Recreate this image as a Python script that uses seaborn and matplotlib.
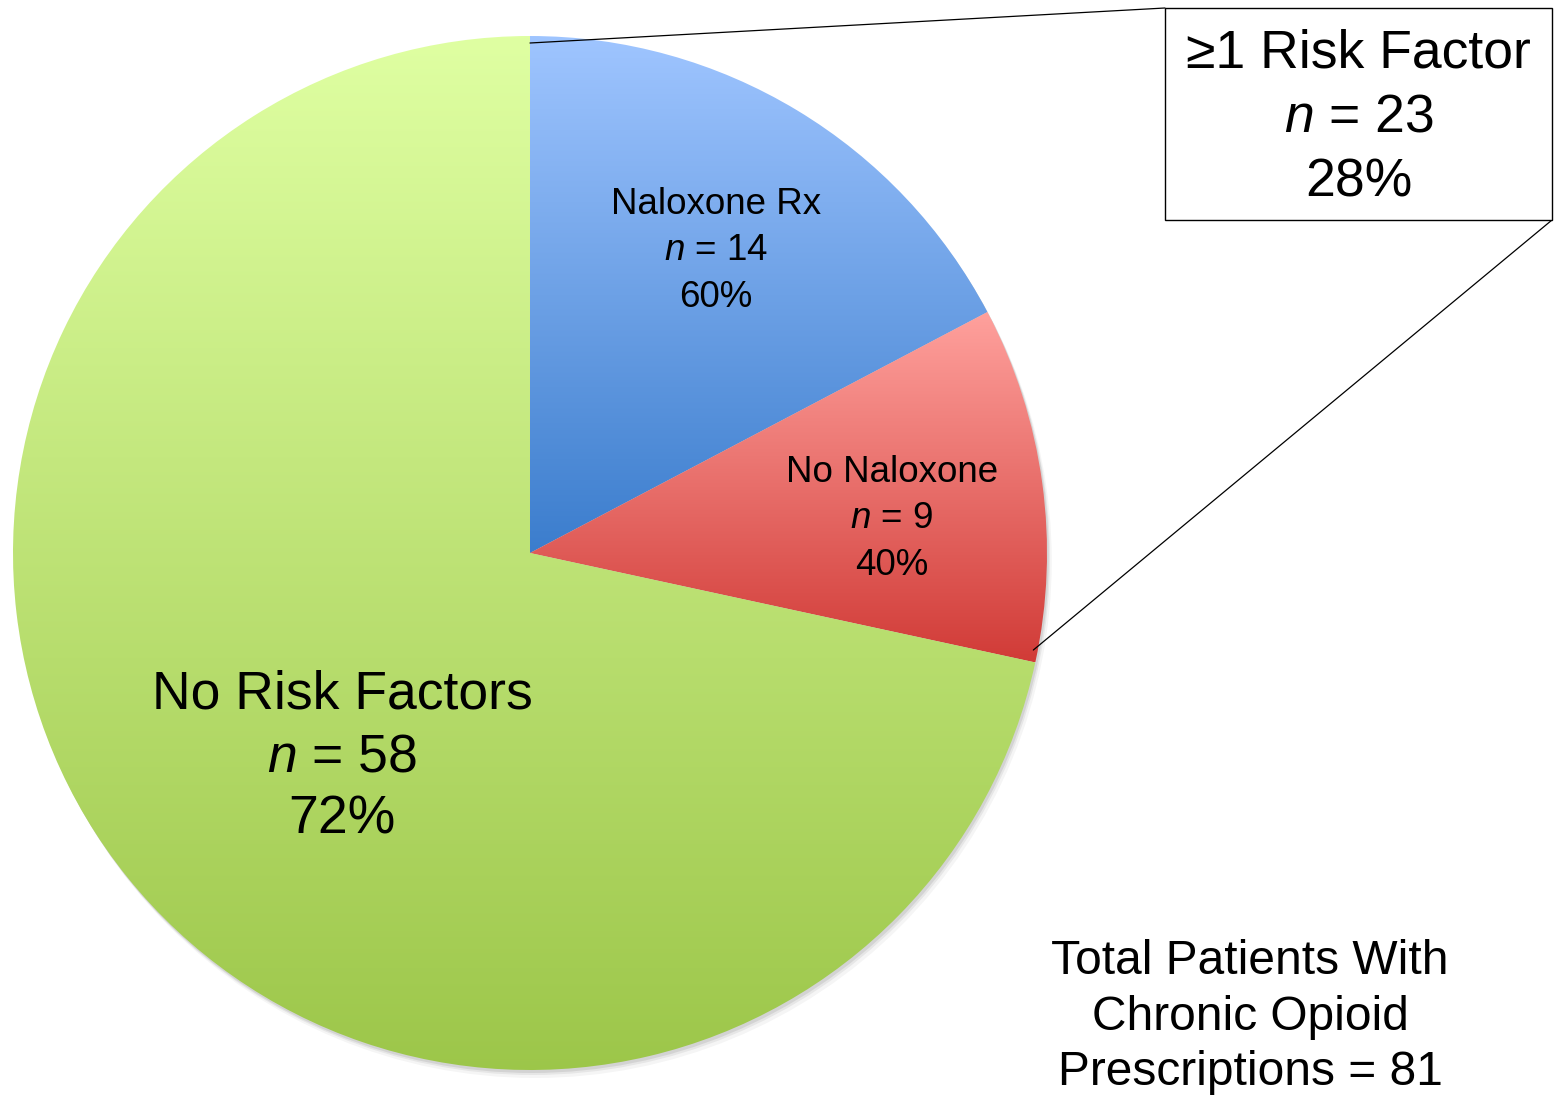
import numpy as np
import matplotlib
matplotlib.use("Agg")
import matplotlib.pyplot as plt
import matplotlib.colors as mcolors
from matplotlib.patches import Rectangle, Circle
import seaborn as sns

# data
labels = ["Naloxone Rx", "No Naloxone", "No Risk Factors"]
counts = [14, 9, 58]
pcts = ["60%", "40%", "72%"]
group_label = "≥1 Risk Factor"
group_n = 23
group_pct = "28%"
total_n = 81

# gradient colours (top, bottom) per slice
top_colors = ["#9fc5ff", "#ffa19d", "#dfffa2"]
bottom_colors = ["#3b7dcd", "#d13b37", "#9cc649"]

sns.set_theme(style="white")
plt.rcParams["font.family"] = ["Liberation Sans", "DejaVu Sans"]
plt.rcParams["text.color"] = "black"
plt.rcParams["mathtext.fontset"] = "custom"
plt.rcParams["mathtext.rm"] = "Liberation Sans"
plt.rcParams["mathtext.it"] = "Liberation Sans:italic"

W, H = 1564, 1095
fig = plt.figure(figsize=(W / 100, H / 100), dpi=100)
ax = fig.add_axes([0, 0, 1, 1])

cx, cy, r = 530, H - 553, 517

# soft shadow
for k, a in [(8, 0.04), (5, 0.06), (3, 0.08)]:
    ax.add_patch(Circle((cx + k * 0.6, cy - k), r, color="black", alpha=a, lw=0, zorder=0))

wedges, _ = ax.pie(counts, startangle=90, counterclock=False, center=(cx, cy),
                   radius=r, wedgeprops=dict(linewidth=0, facecolor="none"))

# vertical gradient per slice
for w, ctop, cbot in zip(wedges, top_colors, bottom_colors):
    path = w.get_path()
    verts = w.get_transform().transform(path.vertices)
    verts = ax.transData.inverted().transform(verts)
    x0, x1 = verts[:, 0].min(), verts[:, 0].max()
    y0, y1 = verts[:, 1].min(), verts[:, 1].max()
    t = np.linspace(0, 1, 256)[:, None]
    c0 = np.array(mcolors.to_rgb(cbot))
    c1 = np.array(mcolors.to_rgb(ctop))
    img = (c0 + (c1 - c0) * t)[:, None, :]
    im = ax.imshow(img, extent=(x0, x1, y0, y1), origin="lower", aspect="auto",
                   interpolation="bilinear", zorder=1)
    im.set_clip_path(w)

ax.set_xlim(0, W)
ax.set_ylim(0, H)
ax.set_aspect("equal")
ax.axis("off")

# slice labels
ax.text(716, H - 251, f"{labels[0]}\n$n$ = {counts[0]}\n{pcts[0]}", ha="center", va="center",
        fontsize=26.5, linespacing=1.42, zorder=3)
ax.text(892, H - 519, f"{labels[1]}\n$n$ = {counts[1]}\n{pcts[1]}", ha="center", va="center",
        fontsize=26.5, linespacing=1.42, zorder=3)
ax.text(342, H - 757, f"{labels[2]}\n$n$ = {counts[2]}\n{pcts[2]}", ha="center", va="center",
        fontsize=38.5, linespacing=1.32, zorder=3)

# callout box
bx0, by0, bx1, by1 = 1165, H - 220, 1552, H - 8
ax.add_patch(Rectangle((bx0, by0), bx1 - bx0, by1 - by0, facecolor="white",
                       edgecolor="black", lw=1.0, zorder=3))
ax.text((bx0 + bx1) / 2, H - 118, f"{group_label}\n$n$ = {group_n}\n{group_pct}",
        ha="center", va="center", fontsize=38.5, linespacing=1.37, zorder=4)

# connector lines from slice edges to box
th_start = np.deg2rad(90)
th_end = np.deg2rad(90 - 360 * (counts[0] + counts[1]) / sum(counts))
ax.plot([cx + (r - 7) * np.cos(th_start), bx0], [cy + (r - 7) * np.sin(th_start), by1],
        color="black", lw=0.9, zorder=2)
ax.plot([cx + (r - 2) * np.cos(th_end), bx1], [cy + (r - 2) * np.sin(th_end) + 12, by0],
        color="black", lw=0.9, zorder=2)

ax.text(1250, H - 1017, f"Total Patients With\nChronic Opioid\nPrescriptions = {total_n}",
        ha="center", va="center", fontsize=34.5, linespacing=1.31, zorder=3)

fig.savefig("out.png", dpi=100)
